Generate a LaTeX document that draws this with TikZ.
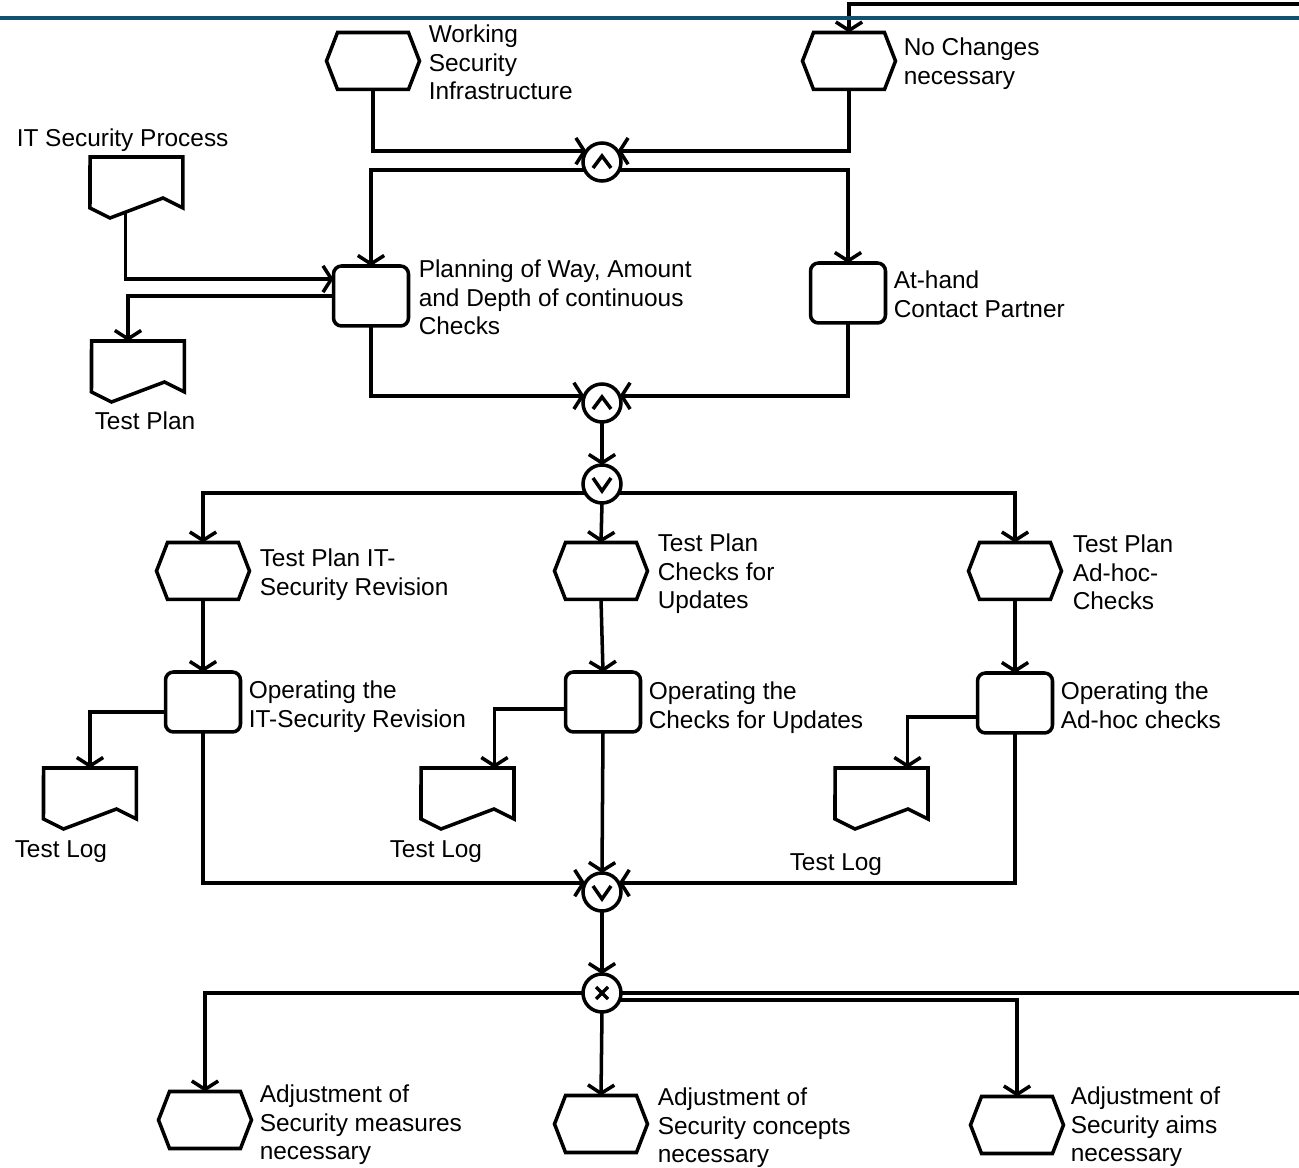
\documentclass[tikz,border=0pt]{standalone}
\usepackage{fontspec}
\setmainfont{Liberation Sans}
\usetikzlibrary{arrows.meta,calc}
\definecolor{rulecol}{RGB}{18,82,112}
\newcommand\hexshape[1]{\draw[shp] ($(#1.north west)+(11,0)$) -- ($(#1.north east)+(-11,0)$) -- (#1.east) -- ($(#1.south east)+(-11,0)$) -- ($(#1.south west)+(11,0)$) -- (#1.west) -- cycle;}
\newcommand\docshape[1]{\draw[shp] (#1.north west) -- (#1.north east) -- ++(0,51) -- ++(-20,-10) -- ++(-53,20) -- ++(-20,-10) -- cycle;}
\newcommand\andsym[1]{\draw[sym] ($(#1)+(-9,6)$) -- ($(#1)+(0,-6)$) -- ($(#1)+(9,6)$);}
\newcommand\orsym[1]{\draw[sym] ($(#1)+(-9,-6)$) -- ($(#1)+(0,7)$) -- ($(#1)+(9,-6)$);}
\newcommand\xorsym[1]{\draw[sym] ($(#1)+(-6,-6)$) -- ($(#1)+(6,6)$) ($(#1)+(-6,6)$) -- ($(#1)+(6,-6)$);}
\begin{document}
\begin{tikzpicture}[x=0.02cm,y=-0.02cm,
  line width=2pt,
  shp/.style={line width=2pt, line join=miter},
  evt/.style={minimum width=1.86cm, minimum height=1.14cm, inner sep=0, outer sep=0},
  fnc/.style={draw, rounded corners=0.16cm, minimum width=1.5cm, minimum height=1.2cm, inner sep=0, outer sep=0, line width=2pt},
  docnode/.style={minimum width=1.86cm, minimum height=1.22cm, inner sep=0, outer sep=0},
  conn/.style={draw, circle, minimum size=0.76cm, inner sep=0, outer sep=0, line width=2pt},
  lbl/.style={anchor=north west, align=left, inner sep=0, font=\fontsize{13.9}{16.3}\selectfont},
  arr/.style={-{Straight Barb[length=4.8pt,width=15pt]}},
  sym/.style={line width=2pt}]
\useasboundingbox (0,0) rectangle (1299,1168);

% events
\node[evt] (ws) at (373,61) {};
\node[evt] (nc) at (849,61) {};
\node[evt] (tp1) at (203,571) {};
\node[evt] (tp2) at (601,571) {};
\node[evt] (tp3) at (1015,571) {};
\node[evt] (ah1) at (205,1120) {};
\node[evt] (ah2) at (601,1124) {};
\node[evt] (ah3) at (1017,1125) {};
\foreach \n in {ws,nc,tp1,tp2,tp3,ah1,ah2,ah3}{\hexshape{\n}}

% functions
\node[fnc] (plan) at (371,296) {};
\node[fnc] (ahcp) at (848,293) {};
\node[fnc] (op1) at (203,702) {};
\node[fnc] (op2) at (603,702) {};
\node[fnc] (op3) at (1015,703) {};

% documents
\node[docnode] (itsp) at (136.5,187.5) {};
\node[docnode] (tpdoc) at (138,371.5) {};
\node[docnode] (tl1) at (90,798.5) {};
\node[docnode] (tl2) at (467.5,798.5) {};
\node[docnode] (tl3) at (881.5,798.5) {};
\foreach \n in {itsp,tpdoc,tl1,tl2,tl3}{\docshape{\n}}

% connectors (operators)
\node[conn] (c1) at (602,162) {};
\node[conn] (c2) at (602,403) {};
\node[conn] (c3) at (602,484) {};
\node[conn] (c4) at (602,892) {};
\node[conn] (c5) at (602,993) {};
\andsym{c1}
\andsym{c2}
\orsym{c3}
\orsym{c4}
\xorsym{c5}

% labels
\node[lbl] (lws) at (427,23) {Working\\Security\\Infrastructure};
\node[lbl] (lnc) at (902,36) {No Changes\\necessary};
\node[lbl] (litsp) at (15,127) {IT Security Process};
\node[lbl] (lplan) at (417,258) {Planning of Way, Amount\\and Depth of continuous\\Checks};
\node[lbl] (lahcp) at (892,269) {At-hand\\Contact Partner};
\node[lbl] (ltpdoc) at (93,410) {Test Plan};
\node[lbl] (ltp1) at (258,547) {Test Plan IT-\\Security Revision};
\node[lbl] (ltp2) at (656,532) {Test Plan\\Checks for\\Updates};
\node[lbl] (ltp3) at (1071,533) {Test Plan\\Ad-hoc-\\Checks};
\node[lbl] (lop1) at (247,679) {Operating the\\IT-Security Revision};
\node[lbl] (lop2) at (647,680) {Operating the\\Checks for Updates};
\node[lbl] (lop3) at (1059,680) {Operating the\\Ad-hoc checks};
\node[lbl] (ltl1) at (13,839) {Test Log};
\node[lbl] (ltl2) at (388,839) {Test Log};
\node[lbl] (ltl3) at (788,852) {Test Log};
\node[lbl] (lah1) at (258,1083) {Adjustment of\\Security measures\\necessary};
\node[lbl] (lah2) at (656,1086) {Adjustment of\\Security concepts\\necessary};
\node[lbl] (lah3) at (1069,1085) {Adjustment of\\Security aims\\necessary};

% free ends at the right border
\coordinate (loopR) at (1299,4);
\coordinate (exitR) at (1299,993);

% edges
\draw[arr] (loopR) -| (nc.north);
\draw[arr] (ws.south) |- (c1.145);
\draw[arr] (nc.south) |- (c1.35);
\draw[arr] (c1.205) -| (plan.north);
\draw[arr] (c1.335) -| (ahcp.north);
\draw[arr] ($(itsp.south)+(-11,-7)$) |- ($(plan.west)+(0,-17)$);
\draw[arr] (plan.west) -| ($(tpdoc.north)+(-10,0)$);
\draw[arr] (plan.south) |- (c2.158);
\draw[arr] (ahcp.south) |- (c2.22);
\draw[arr] (c2.south) -- (c3.north);
\draw[arr] (c3.208) -| (tp1.north);
\draw[arr] (c3.south) -- (tp2.north);
\draw[arr] (c3.332) -| (tp3.north);
\draw[arr] (tp1.south) -- (op1.north);
\draw[arr] (tp2.south) -- (op2.north);
\draw[arr] (tp3.south) -- (op3.north);
\draw[arr] ($(op1.west)+(0,10)$) -| (tl1.north);
\draw[arr] ($(op2.west)+(0,7)$) -| ($(tl2.north)+(27,0)$);
\draw[arr] ($(op3.west)+(0,14)$) -| ($(tl3.north)+(26,0)$);
\draw[arr] (op1.south) |- (c4.152);
\draw[arr] (op2.south) -- (c4.north);
\draw[arr] (op3.south) |- (c4.28);
\draw[arr] (c4.south) -- (c5.north);
\draw[arr] (c5.west) -| (ah1.north);
\draw[arr] (c5.south) -- (ah2.north);
\draw[arr] (c5.338) -| (ah3.north);
\draw (c5.east) -- (exitR);

% top rule
\draw[rulecol, line width=2.2pt] (0,18) -- (1299,18);
\end{tikzpicture}
\end{document}
